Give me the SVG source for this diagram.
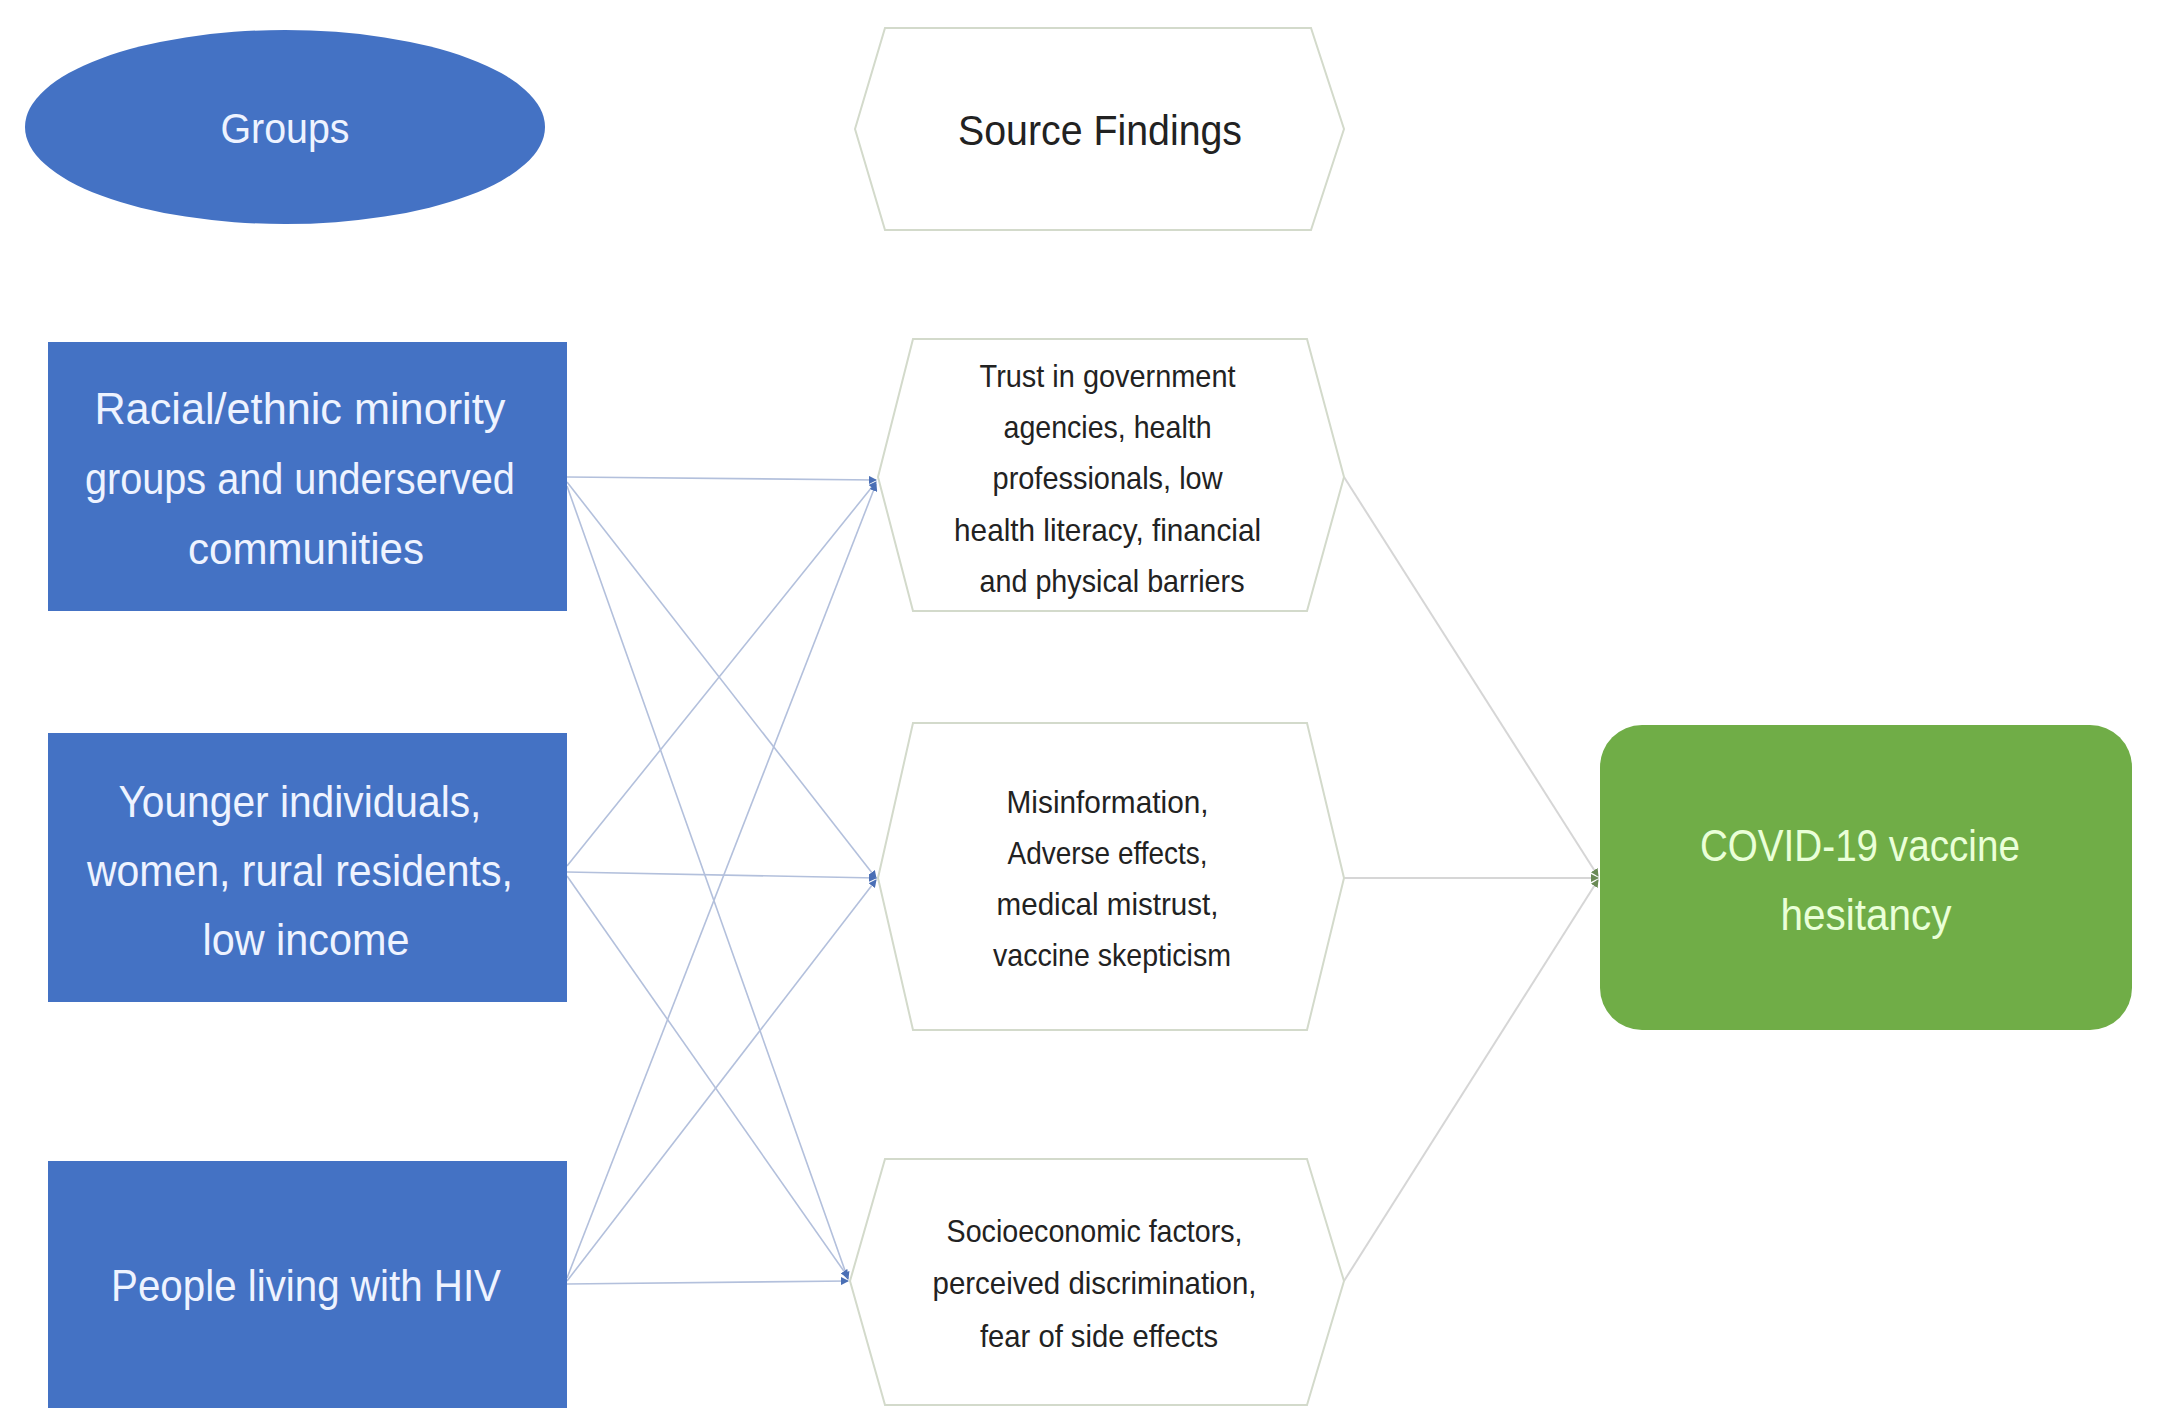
<svg xmlns="http://www.w3.org/2000/svg" width="2168" height="1418" viewBox="0 0 2168 1418">
<style>
.grp{fill:#4472c4}
.wt{fill:#eef3ff;font-family:"Liberation Sans",Arial,sans-serif;text-anchor:middle}
.hex{fill:#ffffff;stroke:#d3dacb;stroke-width:2}
.bt{fill:#222222;font-family:"Liberation Sans",Arial,sans-serif;text-anchor:middle}
.gt{fill:#eaffd8;font-family:"Liberation Sans",Arial,sans-serif;text-anchor:middle}
.c1{stroke:#b3c0dc;stroke-width:1.6;fill:none}
.c2{stroke:#d6d6d6;stroke-width:2;fill:none}
</style>
<defs>
<marker id="ab" markerWidth="8" markerHeight="8" refX="7" refY="4" orient="auto" markerUnits="userSpaceOnUse">
<path d="M0,0 L8,4 L0,8 z" fill="#4a6fb5"/>
</marker>
<marker id="ag" markerWidth="8" markerHeight="8" refX="7" refY="4" orient="auto" markerUnits="userSpaceOnUse">
<path d="M0,0 L8,4 L0,8 z" fill="#6a8a55"/>
</marker>
</defs>
<rect width="2168" height="1418" fill="#ffffff"/>

<g id="connectors">
<line class="c1" x1="567" y1="477" x2="876" y2="480" marker-end="url(#ab)"/>
<line class="c1" x1="567" y1="482" x2="876" y2="878" marker-end="url(#ab)"/>
<line class="c1" x1="567" y1="486" x2="848" y2="1279" marker-end="url(#ab)"/>
<line class="c1" x1="567" y1="866" x2="876" y2="482" marker-end="url(#ab)"/>
<line class="c1" x1="567" y1="872" x2="876" y2="878" marker-end="url(#ab)"/>
<line class="c1" x1="567" y1="876" x2="848" y2="1277" marker-end="url(#ab)"/>
<line class="c1" x1="567" y1="1278" x2="876" y2="484" marker-end="url(#ab)"/>
<line class="c1" x1="567" y1="1281" x2="876" y2="880" marker-end="url(#ab)"/>
<line class="c1" x1="567" y1="1284" x2="848" y2="1281" marker-end="url(#ab)"/>
<line class="c2" x1="1344" y1="477" x2="1598" y2="876" marker-end="url(#ag)"/>
<line class="c2" x1="1344" y1="878" x2="1598" y2="878" marker-end="url(#ag)"/>
<line class="c2" x1="1344" y1="1281" x2="1598" y2="880" marker-end="url(#ag)"/>
</g>

<g id="groups-header">
<ellipse class="grp" cx="285" cy="127" rx="260" ry="97"/>
<text class="wt" x="285" y="143" font-size="42" textLength="129" lengthAdjust="spacingAndGlyphs">Groups</text>
</g>

<g id="findings-header">
<polygon class="hex" points="855,129 885,28 1311,28 1344,129 1311,230 885,230"/>
<text class="bt" x="1100" y="145" font-size="42" textLength="284" lengthAdjust="spacingAndGlyphs">Source Findings</text>
</g>

<g id="group-racial">
<rect class="grp" x="48" y="342" width="519" height="269"/>
<text class="wt" font-size="44">
<tspan x="306" y="424" textLength="411" lengthAdjust="spacingAndGlyphs">Racial/ethnic minority</tspan>
<tspan x="306" y="494" textLength="430" lengthAdjust="spacingAndGlyphs">groups and underserved</tspan>
<tspan x="306" y="564" textLength="236" lengthAdjust="spacingAndGlyphs">communities</tspan>
</text>
</g>

<g id="group-younger">
<rect class="grp" x="48" y="733" width="519" height="269"/>
<text class="wt" font-size="44">
<tspan x="306" y="817" textLength="363" lengthAdjust="spacingAndGlyphs">Younger individuals,</tspan>
<tspan x="306" y="886" textLength="426" lengthAdjust="spacingAndGlyphs">women, rural residents,</tspan>
<tspan x="306" y="955" textLength="207" lengthAdjust="spacingAndGlyphs">low income</tspan>
</text>
</g>

<g id="group-hiv">
<rect class="grp" x="48" y="1161" width="519" height="247"/>
<text class="wt" x="306" y="1301" font-size="44" textLength="390" lengthAdjust="spacingAndGlyphs">People living with HIV</text>
</g>

<g id="finding-trust">
<polygon class="hex" points="878,477 913,339 1307,339 1344,477 1307,611 913,611"/>
<text class="bt" font-size="32">
<tspan x="1112" y="387" textLength="256" lengthAdjust="spacingAndGlyphs">Trust in government</tspan>
<tspan x="1112" y="438" textLength="208" lengthAdjust="spacingAndGlyphs">agencies, health</tspan>
<tspan x="1112" y="489" textLength="230" lengthAdjust="spacingAndGlyphs">professionals, low</tspan>
<tspan x="1112" y="541" textLength="307" lengthAdjust="spacingAndGlyphs">health literacy, financial</tspan>
<tspan x="1112" y="592" textLength="265" lengthAdjust="spacingAndGlyphs">and physical barriers</tspan>
</text>
</g>

<g id="finding-misinfo">
<polygon class="hex" points="878,878 913,723 1307,723 1344,878 1307,1030 913,1030"/>
<text class="bt" font-size="32">
<tspan x="1112" y="813" textLength="202" lengthAdjust="spacingAndGlyphs">Misinformation,</tspan>
<tspan x="1112" y="864" textLength="200" lengthAdjust="spacingAndGlyphs">Adverse effects,</tspan>
<tspan x="1112" y="915" textLength="222" lengthAdjust="spacingAndGlyphs">medical mistrust,</tspan>
<tspan x="1112" y="966" textLength="238" lengthAdjust="spacingAndGlyphs">vaccine skepticism</tspan>
</text>
</g>

<g id="finding-socio">
<polygon class="hex" points="850,1281 885,1159 1307,1159 1344,1281 1307,1405 885,1405"/>
<text class="bt" font-size="32">
<tspan x="1099" y="1242" textLength="296" lengthAdjust="spacingAndGlyphs">Socioeconomic factors,</tspan>
<tspan x="1099" y="1294" textLength="324" lengthAdjust="spacingAndGlyphs">perceived discrimination,</tspan>
<tspan x="1099" y="1347" textLength="238" lengthAdjust="spacingAndGlyphs">fear of side effects</tspan>
</text>
</g>

<g id="outcome">
<rect x="1600" y="725" width="532" height="305" rx="42" ry="42" fill="#70ad47"/>
<text class="gt" font-size="44">
<tspan x="1866" y="861" textLength="320" lengthAdjust="spacingAndGlyphs">COVID-19 vaccine</tspan>
<tspan x="1866" y="930" textLength="171" lengthAdjust="spacingAndGlyphs">hesitancy</tspan>
</text>
</g>
</svg>
